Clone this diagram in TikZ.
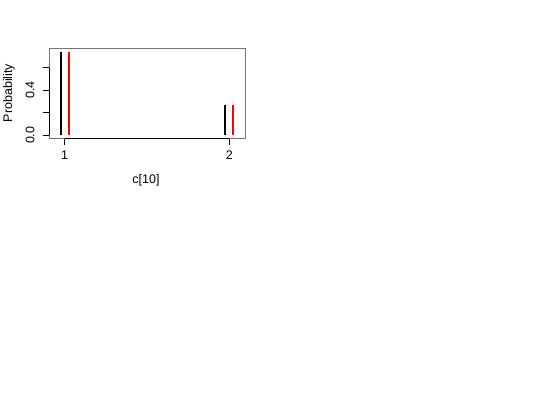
\documentclass[tikz,border=0pt]{standalone}
\usepackage{fontspec}
\setmainfont{Liberation Sans}
\usetikzlibrary{positioning}

\begin{document}
\begin{tikzpicture}[x=1pt,y=-1pt,font=\fontsize{12.5}{14}\selectfont,
    lbl/.style={inner sep=0pt,anchor=center},
    bar/.style={line width=2pt}]
    \useasboundingbox (0,0) rectangle (540,400);

    % plot region and axes
    \draw[black!55, line width=0.8pt] (49,48.5) rectangle (245,138.7);
    \draw[line width=0.8pt] (49,135.3) -- (49,67.7);
    \draw[line width=0.8pt] (64.5,138.7) -- (229.3,138.7);
    \foreach \y in {135.3,112.7,90,67.7}
      \draw[line width=0.8pt] (49,\y) -- (43,\y);
    \foreach \x in {64.5,229.3}
      \draw[line width=0.8pt] (\x,138.7) -- (\x,144.5);

    % tick labels and axis titles
    \node (T0) at (30,135.3) [lbl,rotate=90] {0.0};
    \node (T4) at (30,90) [lbl,rotate=90] {0.4};
    \node (X1) at (64.5,155) [lbl] {1};
    \node (X2) at (229.3,155) [lbl] {2};
    \node (Xlab) at (146,180.5) [lbl] {c[10]};
    \node (Ylab) at (9,93) [lbl,rotate=90] {Probability};

    % probabilities
    \draw[bar, black] (60.7,135.3) -- (60.7,52);
    \draw[bar, red] (68.7,135.3) -- (68.7,52);
    \draw[bar, black] (225,135.3) -- (225,105);
    \draw[bar, red] (233.3,135.3) -- (233.3,105);
  \end{tikzpicture}
\end{document}
